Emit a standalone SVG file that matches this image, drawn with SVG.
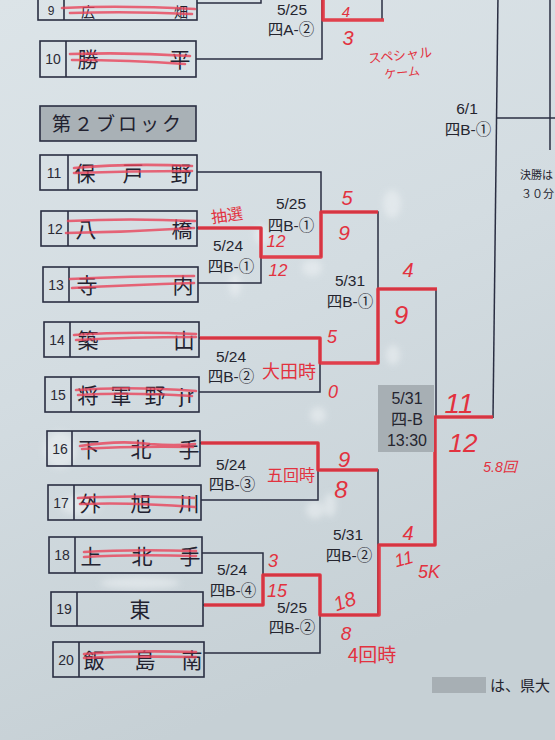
<svg xmlns="http://www.w3.org/2000/svg" width="555" height="740" viewBox="0 0 555 740">
<defs>
<linearGradient id="bg" x1="0" y1="0" x2="0.3" y2="1">
<stop offset="0" stop-color="#dce4e8"/>
<stop offset="0.5" stop-color="#d3dce1"/>
<stop offset="1" stop-color="#c6d0d5"/>
</linearGradient>
<filter id="soft" x="-50%" y="-50%" width="200%" height="200%"><feGaussianBlur stdDeviation="3"/></filter>
</defs>
<style>
.box{fill:none;stroke:#2a2e42;stroke-width:1.6}
.ln{fill:none;stroke:#2a2e42;stroke-width:1.5}
.rd{fill:none;stroke:#e2323f;stroke-width:3.6;stroke-linejoin:round;opacity:0.92}
.strike{fill:none;stroke:#e8435a;stroke-width:2.6;opacity:0.8;stroke-linecap:round}
.num{font-family:"Liberation Sans","Noto Sans CJK JP",sans-serif;font-size:14px;fill:#2a2a35;text-anchor:middle}
.nm{font-family:"Noto Sans CJK JP","Noto Sans CJK SC",sans-serif;font-size:21px;fill:#222230;text-anchor:middle}
.lb{font-family:"Liberation Sans","Noto Sans CJK JP",sans-serif;font-size:15.5px;fill:#25252f;text-anchor:middle}
.hw{font-family:"Liberation Sans","Noto Sans CJK JP",sans-serif;fill:#e2323f;font-style:italic;text-anchor:middle}
.hj{font-family:"Noto Sans CJK JP",sans-serif;fill:#e2323f;text-anchor:middle}
.gray{fill:#a7afb4;stroke:none}
.note{font-family:"Noto Sans CJK JP",sans-serif;fill:#25252f}
</style>
<rect x="0" y="0" width="555" height="740" fill="url(#bg)"/>

<!-- correction fluid smudges -->
<g fill="#eef2f4" opacity="0.55" filter="url(#soft)">
<ellipse cx="392" cy="204" rx="9" ry="14"/>
<ellipse cx="312" cy="268" rx="10" ry="8"/>
<ellipse cx="262" cy="235" rx="8" ry="10"/>
<ellipse cx="393" cy="355" rx="7" ry="10"/>
<ellipse cx="318" cy="415" rx="8" ry="8"/>
<ellipse cx="315" cy="510" rx="9" ry="9"/>
<ellipse cx="330" cy="505" rx="6" ry="12"/>
<ellipse cx="140" cy="583" rx="40" ry="6"/>
<ellipse cx="60" cy="450" rx="16" ry="18"/>
<ellipse cx="80" cy="505" rx="20" ry="10"/>
<ellipse cx="235" cy="285" rx="6" ry="12"/>
</g>

<!-- connectors -->
<g id="connectors">
<path class="ln" d="M197 3 H261 V-5"/>
<path class="ln" d="M196 59 H322 V-5"/>
<path class="ln" d="M382 -5 V19"/>
<path class="ln" d="M498 -5 L493 418"/>
<path class="ln" d="M497 118 H555"/>
<path class="ln" d="M550 -5 V150"/>
<path class="ln" d="M197 172 H321 V257"/>
<path class="ln" d="M197 228 H261 V283 H198"/>
<path class="ln" d="M321 212 H378 V363"/>
<path class="ln" d="M199 338 H320 V392 H199"/>
<path class="ln" d="M378 289 H436 V417"/>
<path class="ln" d="M200 443 H318 V500 H201"/>
<path class="ln" d="M318 470 H378 V615"/>
<path class="ln" d="M202 553 H263 V605 H203"/>
<path class="ln" d="M263 575 H320 V653 H204"/>
<path class="ln" d="M320 615 H378"/>
<path class="ln" d="M378 545 H435 V417 H493"/>
<!-- winner paths (red) -->
<path class="rd" d="M323 -5 V20 H384"/>
<path class="rd" d="M198 228 H261 V257 H321 V212 H378"/>
<path class="rd" d="M200 338 H320 V363 H378 V289 H437"/>
<path class="rd" d="M201 443 H318 V470 H378"/>
<path class="rd" d="M204 605 H263 V575 H320 V615 H379 V545 H435 V417 H493"/>
</g>

<!-- teams -->
<g id="team9">
<rect class="box" x="38" y="-20" width="159" height="40"/>
<line class="box" x1="64" y1="-20" x2="64" y2="20"/>
<text class="num" x="51" y="15" style="font-size:12px">9</text>
<text class="nm" x="88" y="17" style="font-size:14px">広</text><text class="nm" x="181" y="17" style="font-size:14px">畑</text>
<path class="strike" d="M62 8 Q120 5 195 9 M70 13 Q130 11 192 14"/>
</g>
<g id="team10">
<rect class="box" x="40" y="41" width="156" height="36"/>
<line class="box" x1="66" y1="41" x2="66" y2="77"/>
<text class="num" x="53" y="64">10</text>
<text class="nm" x="88" y="67">勝</text><text class="nm" x="180" y="67">平</text>
<path class="strike" d="M70 54 Q130 52 190 56 M72 60 Q130 60 185 64"/>
</g>
<g id="header">
<rect x="40" y="106" width="156" height="35" fill="#a9b1b6" stroke="#2a2e42" stroke-width="1.6"/>
<text x="118" y="131" font-family="Noto Sans CJK JP,sans-serif" font-size="19" fill="#222230" text-anchor="middle" letter-spacing="3">第２ブロック</text>
</g>
<g id="team11">
<rect class="box" x="40" y="155" width="157" height="35"/>
<line class="box" x1="68" y1="155" x2="68" y2="190"/>
<text class="num" x="54" y="178">11</text>
<text class="nm" x="85" y="181">保</text><text class="nm" x="133" y="181">戸</text><text class="nm" x="181" y="181">野</text>
<path class="strike" d="M74 168 Q130 163 192 166 M74 173 Q130 171 192 171"/>
</g>
<g id="team12">
<rect class="box" x="41" y="211" width="156" height="35"/>
<line class="box" x1="68" y1="211" x2="68" y2="246"/>
<text class="num" x="55" y="234">12</text>
<text class="nm" x="86" y="237">八</text><text class="nm" x="182" y="237">橋</text>
<path class="strike" d="M68 221 Q130 218 195 221 M66 233 Q130 232 194 228"/>
</g>
<g id="team13">
<rect class="box" x="43" y="267" width="155" height="35"/>
<line class="box" x1="69" y1="267" x2="69" y2="302"/>
<text class="num" x="56" y="290">13</text>
<text class="nm" x="87" y="293">寺</text><text class="nm" x="183" y="293">内</text>
<path class="strike" d="M70 279 Q130 276 194 276 M72 288 Q130 285 194 283"/>
</g>
<g id="team14">
<rect class="box" x="44" y="322" width="155" height="35"/>
<line class="box" x1="70" y1="322" x2="70" y2="357"/>
<text class="num" x="57" y="345">14</text>
<text class="nm" x="88" y="348">築</text><text class="nm" x="184" y="348">山</text>
<path class="strike" d="M74 335 Q130 331 196 334 M76 340 Q130 337 196 337"/>
</g>
<g id="team15">
<rect class="box" x="45" y="377" width="154" height="35"/>
<line class="box" x1="71" y1="377" x2="71" y2="412"/>
<text class="num" x="58" y="400">15</text>
<text class="nm" x="88" y="403">将</text><text class="nm" x="121" y="403">軍</text><text class="nm" x="155" y="403">野</text>
<text x="188" y="403" font-family="Liberation Sans,sans-serif" font-size="20" fill="#222230" text-anchor="middle" letter-spacing="3">jr</text>
<path class="strike" d="M76 390 Q130 386 196 391 M78 395 Q130 392 192 396"/>
</g>
<g id="team16">
<rect class="box" x="47" y="431" width="153" height="35"/>
<line class="box" x1="72" y1="431" x2="72" y2="466"/>
<text class="num" x="60" y="454">16</text>
<text class="nm" x="89" y="457">下</text><text class="nm" x="141" y="457">北</text><text class="nm" x="189" y="457">手</text>
<path class="strike" d="M80 446 Q120 440 150 444 Q175 446 195 444 M82 449 Q130 446 193 447"/>
</g>
<g id="team17">
<rect class="box" x="48" y="485" width="153" height="35"/>
<line class="box" x1="74" y1="485" x2="74" y2="520"/>
<text class="num" x="61" y="508">17</text>
<text class="nm" x="90" y="511">外</text><text class="nm" x="141" y="511">旭</text><text class="nm" x="189" y="511">川</text>
<path class="strike" d="M78 498 Q130 495 194 498 M80 504 Q130 502 195 507"/>
</g>
<g id="team18">
<rect class="box" x="49" y="537" width="153" height="36"/>
<line class="box" x1="75" y1="537" x2="75" y2="573"/>
<text class="num" x="62" y="560">18</text>
<text class="nm" x="91" y="564">上</text><text class="nm" x="142" y="564">北</text><text class="nm" x="190" y="564">手</text>
<path class="strike" d="M84 552 Q130 549 196 551 M84 557 Q130 554 196 556"/>
</g>
<g id="team19">
<rect class="box" x="51" y="592" width="152" height="34"/>
<line class="box" x1="77" y1="592" x2="77" y2="626"/>
<text class="num" x="64" y="614">19</text>
<text class="nm" x="140" y="617">東</text>
</g>
<g id="team20">
<rect class="box" x="53" y="642" width="151" height="35"/>
<line class="box" x1="79" y1="642" x2="79" y2="677"/>
<text class="num" x="66" y="665">20</text>
<text class="nm" x="94" y="668">飯</text><text class="nm" x="145" y="668">島</text><text class="nm" x="192" y="668">南</text>
<path class="strike" d="M84 654 Q130 650 196 652 M84 658 Q130 656 196 657"/>
</g>

<!-- match labels -->
<g id="m-a2"><text class="lb" x="292" y="15">5/25</text><text class="lb" x="291" y="35">四A-②</text></g>
<g id="m-final"><text class="lb" x="467" y="114">6/1</text><text class="lb" x="468" y="135">四B-①</text></g>
<g id="note"><text class="note" x="520" y="179" font-size="11">決勝は</text><text class="note" x="521" y="198" font-size="11">３０分</text></g>
<g id="m-b1-524"><text class="lb" x="228" y="251">5/24</text><text class="lb" x="231" y="272">四B-①</text></g>
<g id="m-b1-525"><text class="lb" x="291" y="209">5/25</text><text class="lb" x="291" y="231">四B-①</text></g>
<g id="m-b1-531"><text class="lb" x="350" y="286">5/31</text><text class="lb" x="350" y="307">四B-①</text></g>
<g id="m-b2-524"><text class="lb" x="231" y="362">5/24</text><text class="lb" x="231" y="382">四B-②</text></g>
<g id="m-b-semi">
<rect class="gray" x="378" y="385" width="56" height="67"/>
<text class="lb" x="407" y="404" style="font-size:16px">5/31</text><text class="lb" x="407" y="425" style="font-size:16px">四-B</text><text class="lb" x="407" y="446" style="font-size:16px">13:30</text>
</g>
<g id="m-b3-524"><text class="lb" x="231" y="470">5/24</text><text class="lb" x="232" y="490">四B-③</text></g>
<g id="m-b2-531"><text class="lb" x="348" y="540">5/31</text><text class="lb" x="349" y="561">四B-②</text></g>
<g id="m-b4-524"><text class="lb" x="232" y="575">5/24</text><text class="lb" x="233" y="596">四B-④</text></g>
<g id="m-b2-525"><text class="lb" x="292" y="613">5/25</text><text class="lb" x="292" y="633">四B-②</text></g>

<!-- legend -->
<g id="legend">
<rect class="gray" x="432" y="677" width="54" height="16"/>
<text class="note" x="490" y="691" font-size="15">は、県大</text>
</g>

<!-- handwriting -->
<g id="handwriting">
<text class="hw" x="346" y="17" font-size="15">4</text>
<text class="hw" x="348" y="45" font-size="20">3</text>
<text class="hj" x="400" y="60" font-size="13" transform="rotate(-6 400 55)">スペシャル</text>
<text class="hj" x="402" y="77" font-size="12" transform="rotate(-6 402 72)">ケーム</text>
<text class="hj" x="227" y="221" font-size="16" transform="rotate(-8 227 215)">抽選</text>
<text class="hw" x="276" y="247" font-size="17">12</text>
<text class="hw" x="278" y="276" font-size="17">12</text>
<text class="hw" x="347" y="205" font-size="20">5</text>
<text class="hw" x="344" y="240" font-size="21">9</text>
<text class="hw" x="408" y="277" font-size="20">4</text>
<text class="hw" x="401" y="324" font-size="26">9</text>
<text class="hw" x="332" y="343" font-size="18">5</text>
<text class="hw" x="333" y="398" font-size="18">0</text>
<text class="hj" x="289" y="378" font-size="18">大田時</text>
<text class="hw" x="459" y="413" font-size="28">11</text>
<text class="hw" x="463" y="452" font-size="26">12</text>
<text class="hw" x="500" y="472" font-size="14">5.8回</text>
<text class="hw" x="344" y="467" font-size="22">9</text>
<text class="hw" x="341" y="498" font-size="24">8</text>
<text class="hj" x="291" y="481" font-size="16">五回時</text>
<text class="hw" x="408" y="540" font-size="20">4</text>
<text class="hw" x="404" y="565" font-size="18" transform="rotate(-15 404 560)">11</text>
<text class="hw" x="429" y="578" font-size="18">5K</text>
<text class="hw" x="273" y="567" font-size="18">3</text>
<text class="hw" x="277" y="597" font-size="18">15</text>
<text class="hw" x="345" y="608" font-size="20" transform="rotate(-20 345 602)">18</text>
<text class="hw" x="346" y="640" font-size="19">8</text>
<text class="hj" x="372" y="662" font-size="19">4回時</text>
</g>
</svg>
